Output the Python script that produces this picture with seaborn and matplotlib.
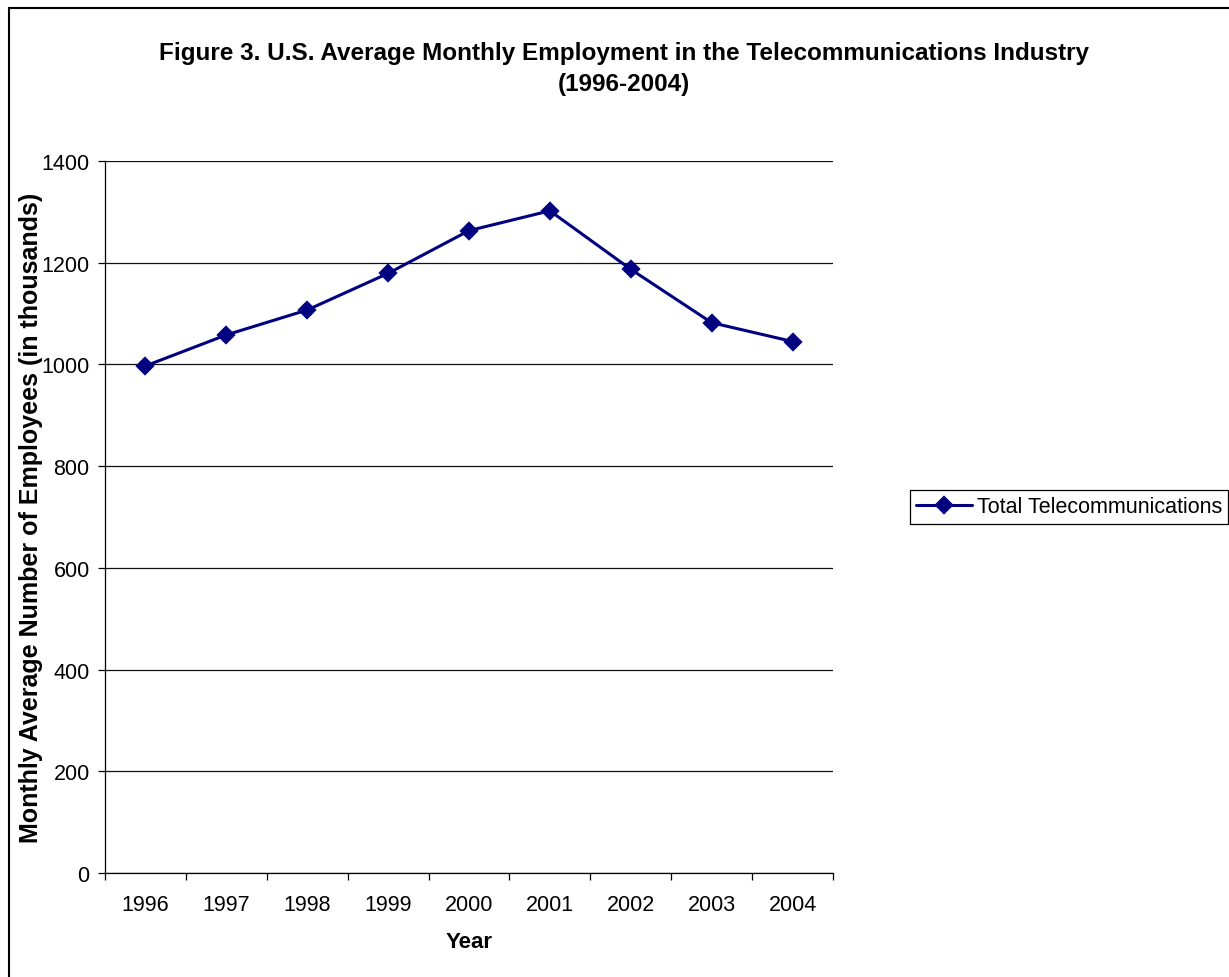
"""
Telecom employment chart
"""

import matplotlib.pyplot as plt
import numpy as np
import pandas as pd
import seaborn as sns
from matplotlib.patches import Rectangle

years = ["1996", "1997", "1998", "1999", "2000", "2001", "2002", "2003", "2004"]
employees = [997, 1058, 1107, 1179, 1263, 1302, 1187, 1082, 1045]
series_name = "Total Telecommunications"
y_ticks = [0, 200, 400, 600, 800, 1000, 1200, 1400]

df = pd.DataFrame({"Year": years, "Employees": employees})

sns.set_style("white")
plt.rcParams["font.family"] = ["Liberation Sans", "DejaVu Sans"]
plt.rcParams["text.color"] = "black"
plt.rcParams["axes.labelcolor"] = "black"
plt.rcParams["xtick.color"] = "black"
plt.rcParams["ytick.color"] = "black"

fig = plt.figure(figsize=(12.29, 9.78), dpi=100)
ax = fig.add_axes([0.0854, 0.1063, 0.5924, 0.7281])

sns.pointplot(
    data=df,
    x="Year",
    y="Employees",
    color="#000080",
    markers="D",
    markersize=8,
    linewidth=2.2,
    errorbar=None,
    label=series_name,
    ax=ax,
)

ax.set_xlim(-0.5, len(years) - 0.5)
ax.set_ylim(0, 1400)
ax.set_yticks(y_ticks)
ax.yaxis.grid(True, color="#111111", linewidth=0.9)
ax.set_axisbelow(True)

for side in ["top", "right"]:
    ax.spines[side].set_visible(False)
for side in ["left", "bottom"]:
    ax.spines[side].set_color("black")
    ax.spines[side].set_linewidth(0.9)

# category axis: labels centred, tick marks between categories
ax.set_xticks(np.arange(-0.5, len(years)), minor=True)
ax.tick_params(axis="x", which="major", length=0, pad=15, labelsize=15.5)
ax.tick_params(axis="x", which="minor", length=5, width=0.9, direction="out", color="black", bottom=True)
ax.tick_params(axis="y", which="major", length=5, width=0.9, direction="out", color="black", left=True, labelsize=15.5, pad=6)

ax.set_xlabel("Year", fontsize=16, fontweight="bold", labelpad=11.5)
ax.set_ylabel("Monthly Average Number of Employees (in thousands)", fontsize=18, fontweight="bold", labelpad=-1)

fig.suptitle(
    "Figure 3. U.S. Average Monthly Employment in the Telecommunications Industry\n(1996-2004)",
    x=0.508,
    y=0.957,
    fontsize=17.5,
    fontweight="bold",
    linespacing=1.45,
)

ax.legend(
    loc="center left",
    bbox_to_anchor=(0.7404, 0.4806),
    bbox_transform=fig.transFigure,
    borderaxespad=0,
    fontsize=15.5,
    frameon=True,
    fancybox=False,
    edgecolor="black",
    framealpha=1,
    borderpad=0.3,
    handlelength=2.6,
    handletextpad=0.2,
)
ax.get_legend().get_frame().set_linewidth(0.9)

# outer chart border (runs off right and bottom edges)
fig.add_artist(
    Rectangle((8.5 / 1229, -0.1), 2, 1.1 - 8.5 / 978, transform=fig.transFigure,
              fill=False, edgecolor="black", linewidth=1.5, clip_on=False)
)

fig.savefig("out.png", dpi=100)
